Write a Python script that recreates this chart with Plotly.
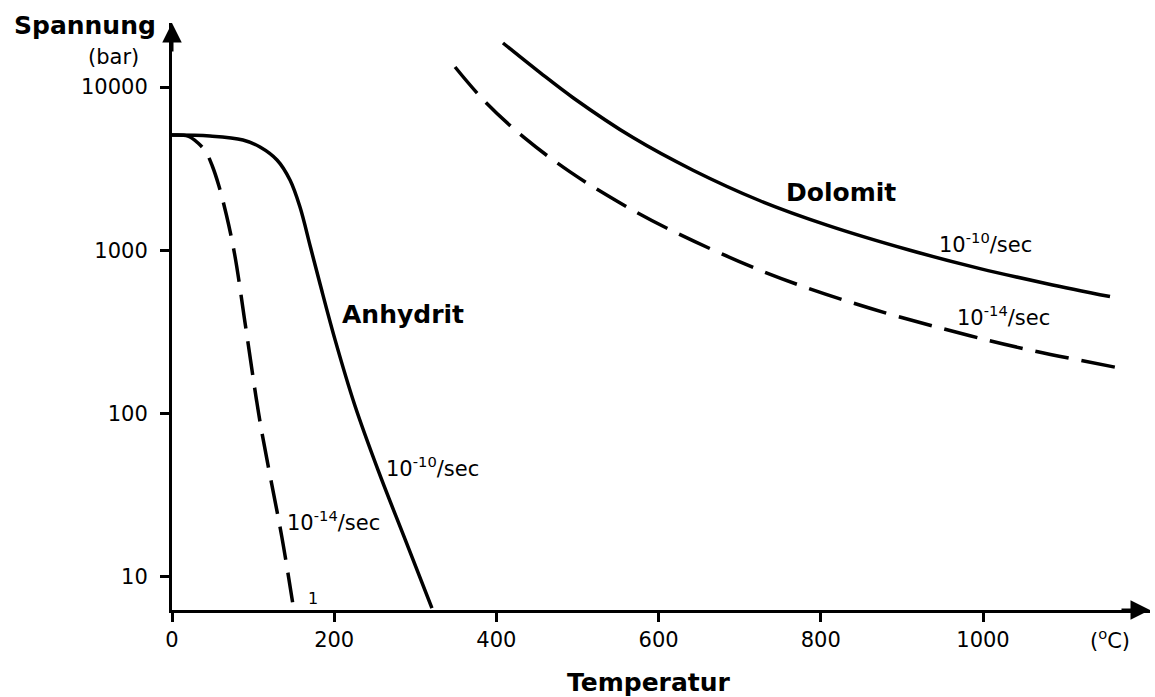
import plotly.graph_objects as go

# ---- data ----
anh_fast_T = [0, 46.9, 87.5, 108.5, 129.5, 145.5, 157.8, 170.7, 182.9, 201.2, 225.3, 254.1, 287.8, 320.5]
anh_fast_S = [5080, 5010, 4737, 4292, 3573, 2695, 1842, 1048, 613, 282, 113, 45.1, 16.8, 6.45]

anh_slow_T = [0, 19.7, 32.1, 41.9, 49.7, 57.5, 67.1, 77.4, 91.4, 108.8, 135.5, 148.7]
anh_slow_S = [5080, 5010, 4540, 4000, 3284, 2512, 1645, 936, 325, 87.6, 17.5, 7.0]

dol_fast_T = [408.1, 453.8, 494.5, 568.4, 642.4, 725.0, 807.6, 910.0, 996.3, 1078.9, 1156.6]
dol_fast_S = [18600, 12250, 8600, 4900, 3094, 2012, 1427, 1001, 773, 625, 521]

dol_slow_T = [349.0, 385.9, 434.0, 490.8, 550.0, 610.4, 733.7, 860.7, 984.0, 1051.8, 1166.5]
dol_slow_S = [13260, 8150, 4913, 3021, 1984, 1366, 726, 442, 300, 249, 191]

x_ticks = [0, 200, 400, 600, 800, 1000]
x_tick_labels = ["0", "200", "400", "600", "800", "1000"]
y_ticks = [10, 100, 1000, 10000]
y_tick_labels = ["10", "100", "1000", "10000"]

FONT = "DejaVu Sans"
LW = 3.5
DASH = "34px,13px"

fig = go.Figure()
for xs, ys, dash in [(anh_fast_T, anh_fast_S, "solid"), (anh_slow_T, anh_slow_S, DASH),
                     (dol_fast_T, dol_fast_S, "solid"), (dol_slow_T, dol_slow_S, DASH)]:
    fig.add_trace(go.Scatter(x=xs, y=ys, mode="lines", hoverinfo="skip",
                             line=dict(color="black", width=LW, dash=dash,
                                       shape="spline", smoothing=1.0)))

L, R, T, B = 172, 5, 23, 87
W, H = 1155, 697
pw = W - L - R
ph = H - T - B
xmax = pw / 0.811
ylog_top = 4 + (87 - 23) / 163.3
ylog_bot = 1 - (610 - 577) / 163.3

def px(xp):
    return (xp - L) / pw

def py(yp):
    return (H - B - yp) / ph

ann = []
def txt(text, x, y, size, bold=False):
    ann.append(dict(text=f"<b>{text}</b>" if bold else text, x=px(x), y=py(y),
                    xref="paper", yref="paper", showarrow=False,
                    xanchor="center", yanchor="middle",
                    font=dict(family=FONT, size=size, color="black")))

txt("Spannung", 85, 25, 25, bold=True)
txt("(bar)", 113, 57, 21)
txt("Temperatur", 649, 682, 25, bold=True)
txt("(<sup>o</sup>C)", 1110, 639, 21)
txt("Anhydrit", 403, 314, 25, bold=True)
txt("Dolomit", 841, 192, 25, bold=True)
txt("10<sup>-10</sup>/sec", 432, 467, 21)
txt("10<sup>-14</sup>/sec", 333, 521, 21)
txt("10<sup>-10</sup>/sec", 985, 243, 21)
txt("10<sup>-14</sup>/sec", 1003, 316, 21)
txt("1", 313, 598, 16)

# axis arrowheads
ann.append(dict(x=1, y=0, xref="paper", yref="paper", ax=-30, ay=0, axref="pixel", ayref="pixel",
                showarrow=True, arrowhead=2, arrowsize=1.3, arrowwidth=3, arrowcolor="black", text=""))
ann.append(dict(x=0, y=1, xref="paper", yref="paper", ax=0, ay=30, axref="pixel", ayref="pixel",
                showarrow=True, arrowhead=2, arrowsize=1.3, arrowwidth=3, arrowcolor="black", text=""))

fig.update_layout(
    width=W, height=H,
    margin=dict(l=L, r=R, t=T, b=B, pad=0),
    paper_bgcolor="white", plot_bgcolor="white",
    showlegend=False,
    annotations=ann,
    xaxis=dict(range=[0, xmax], showgrid=False, zeroline=False, showline=True,
               linecolor="black", linewidth=3, ticks="outside", ticklen=9, tickwidth=2.5,
               tickcolor="black", tickvals=x_ticks, ticktext=x_tick_labels,
               tickfont=dict(family=FONT, size=21, color="black")),
    yaxis=dict(type="log", range=[ylog_bot, ylog_top], showgrid=False, zeroline=False,
               showline=True, linecolor="black", linewidth=3, ticks="outside", ticklen=9,
               tickwidth=2.5, tickcolor="black", tickvals=y_ticks, ticktext=y_tick_labels,
               ticklabelstandoff=8,
               tickfont=dict(family=FONT, size=21, color="black")),
)

fig.write_html("out.html", config={"displayModeBar": False},
               post_script="document.body.style.margin='0';document.body.style.overflow='hidden';")
